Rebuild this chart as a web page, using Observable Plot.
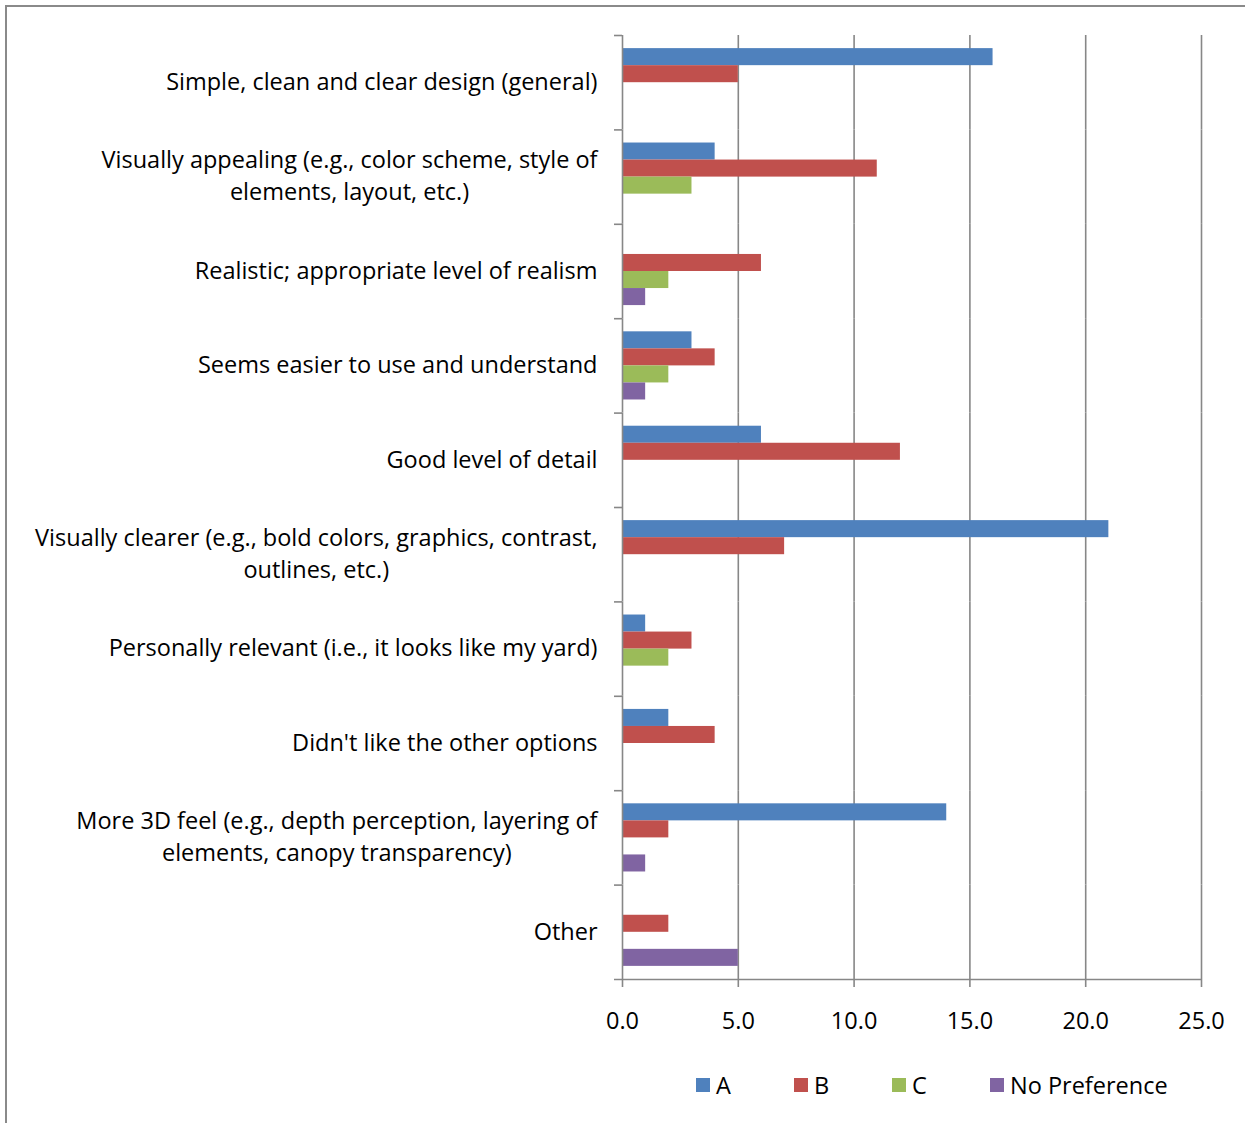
<!DOCTYPE html>
<html>
<head>
<meta charset="utf-8">
<script src="https://cdn.jsdelivr.net/npm/d3@7"></script>
<script src="https://cdn.jsdelivr.net/npm/@observablehq/plot@0.6"></script>
<style>
  body { margin: 0; background: #fff; }
  #wrap { position: relative; width: 1245px; height: 1123px; overflow: hidden; background: #fff; }
  #border { position: absolute; left: 5px; top: 5px; width: 1300px; height: 1200px;
            border-left: 2px solid #8a8a8a; border-top: 2px solid #8a8a8a; }
  #chart { position: absolute; left: 0; top: 0; }
  #legend { position: absolute; left: 696px; top: 1070px; height: 30px; display: flex; align-items: center; }
  .item { display: flex; align-items: center; width: 98px; white-space: nowrap; color: #000; }
  .sw { width: 14px; height: 14px; margin-right: 6px; flex: none; }
</style>
</head>
<body>
<div id="wrap">
  <div id="border"></div>
  <div id="chart"></div>
  <div id="legend"></div>
</div>
<script>
// ---- data ----
const categories = [
  "Simple, clean and clear design (general)",
  "Visually appealing (e.g., color scheme, style of\nelements, layout, etc.)",
  "Realistic; appropriate level of realism",
  "Seems easier to use and understand",
  "Good level of detail",
  "Visually clearer (e.g., bold colors, graphics, contrast,\noutlines, etc.)",
  "Personally relevant (i.e., it looks like my yard)",
  "Didn't like the other options",
  "More 3D feel (e.g., depth perception, layering of\nelements, canopy transparency)",
  "Other"
];
const seriesNames = ["A", "B", "C", "No Preference"];
const valuesA  = [16, 4, 0, 3, 6, 21, 1, 2, 14, 0];
const valuesB  = [5, 11, 6, 4, 12, 7, 3, 4, 2, 2];
const valuesC  = [0, 3, 2, 2, 0, 0, 2, 0, 0, 0];
const valuesNP = [0, 0, 1, 1, 0, 0, 0, 0, 1, 5];
const seriesColors = ["#4F81BD", "#C0504D", "#9BBB59", "#8064A2"];
const xTicks = [0, 5, 10, 15, 20, 25];

const seriesValues = [valuesA, valuesB, valuesC, valuesNP];
const rows = categories.flatMap((c, i) =>
  seriesNames.map((s, j) => ({category: c, series: s, value: seriesValues[j][i]}))
).filter(d => d.value > 0);

// ---- layout ----
const W = 1245, H = 1050, mt = 35, mb = 71, ml = 622, mr = 44;
const fontFamily = '"Open Sans", sans-serif';
const ctx = document.createElement("canvas").getContext("2d");
function measure(t, size) { ctx.font = `${size}px ${fontFamily}`; return ctx.measureText(t).width; }
const fontSize = Math.round(2 * 20 * 429 / measure(categories[0], 20)) / 2;
const gridColor = "#878787";
const gridWidth = 1.6;
const po = 0.77;
const facetH = (H - mt - mb) / categories.length;
const step = facetH / (seriesNames.length + 2 * po);
const edgeOffset = po * step + step / 2;

const labelMarks = categories.map(c => {
  const lines = c.split("\n");
  const maxW = Math.max(...lines.map(l => measure(l, fontSize)));
  return Plot.text([c], {
    fy: d => d, text: d => d, frameAnchor: "left", textAnchor: "middle", lineAnchor: "middle",
    lineHeight: 32 / fontSize, dx: -(25 + maxW / 2), dy: -3, fontSize, fill: "#000"
  });
});

const chart = Plot.plot({
  width: W, height: H,
  marginTop: mt, marginBottom: mb, marginLeft: ml, marginRight: mr,
  style: {fontFamily, fontSize: fontSize + "px", background: "transparent", color: "#000"},
  x: {domain: [xTicks[0], xTicks[xTicks.length - 1]]},
  y: {domain: seriesNames, axis: null, paddingInner: 0, paddingOuter: po, round: false},
  fy: {domain: categories, axis: null, padding: 0, round: false},
  color: {domain: seriesNames, range: seriesColors},
  marks: [
    Plot.ruleX(xTicks.slice(1), {stroke: gridColor, strokeWidth: gridWidth}),
    Plot.barX(rows, {x: "value", y: "series", fy: "category", fill: "series"}),
    Plot.ruleX([xTicks[0]], {stroke: gridColor, strokeWidth: gridWidth}),
    Plot.ruleY(categories, {
      fy: d => d, y: () => seriesNames[0], x1: () => xTicks[0], x2: () => xTicks[0],
      dy: -edgeOffset, insetLeft: -8, stroke: gridColor, strokeWidth: gridWidth
    }),
    Plot.ruleY([categories[categories.length - 1]], {
      fy: d => d, y: () => seriesNames[seriesNames.length - 1],
      x1: () => xTicks[0], x2: () => xTicks[xTicks.length - 1],
      dy: edgeOffset, insetLeft: -8, stroke: gridColor, strokeWidth: gridWidth
    }),
    Plot.axisX({
      ticks: xTicks, tickFormat: d3.format(".1f"), tickSize: 8, tickPadding: 25, label: null,
      stroke: gridColor, strokeWidth: gridWidth, fill: "#000", fontSize
    }),
    ...labelMarks
  ]
});
document.getElementById("chart").appendChild(chart);

// ---- legend ----
const legend = document.getElementById("legend");
legend.style.fontFamily = fontFamily;
legend.style.fontSize = fontSize + "px";
seriesNames.forEach((s, i) => {
  const item = document.createElement("div");
  item.className = "item";
  const sw = document.createElement("span");
  sw.className = "sw";
  sw.style.background = seriesColors[i];
  const tx = document.createElement("span");
  tx.textContent = s;
  item.appendChild(sw);
  item.appendChild(tx);
  legend.appendChild(item);
});
</script>
</body>
</html>
